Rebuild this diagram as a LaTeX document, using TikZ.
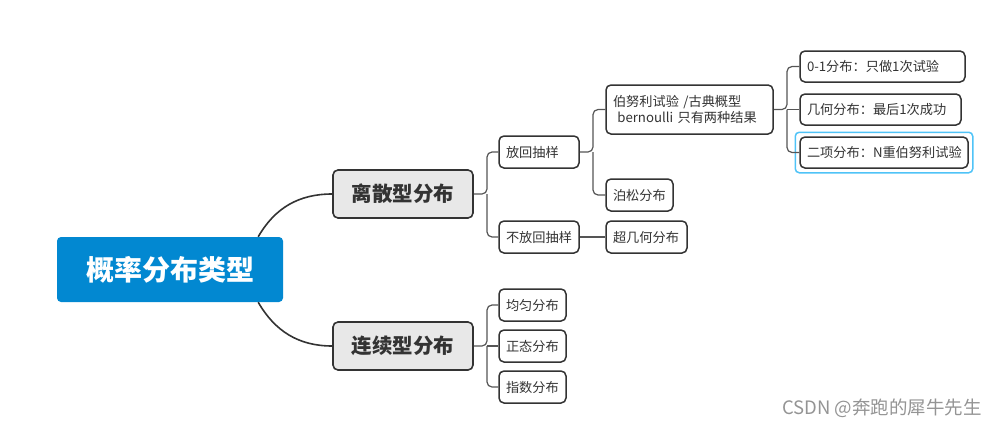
\documentclass[tikz,border=0pt]{standalone}
\usepackage{fontspec}
\setmainfont{Noto Sans CJK SC}
\usetikzlibrary{calc}
\definecolor{rootblue}{HTML}{0288D1}
\definecolor{boxline}{HTML}{333333}
\definecolor{mainfill}{HTML}{E8E8E8}
\definecolor{linkgray}{HTML}{555555}
\definecolor{hilite}{HTML}{4FC3F7}
\definecolor{txt}{HTML}{333333}
\begin{document}
\begin{tikzpicture}[x=1pt,y=-1pt,
  rootbox/.style={fill=rootblue,rounded corners=4pt,text=white,font=\fontsize{28}{32}\selectfont\bfseries,minimum width=226pt,minimum height=65pt,inner sep=0pt},
  mainbox/.style={draw=boxline,line width=1.6pt,fill=mainfill,rounded corners=5pt,text=txt,font=\fontsize{20.5}{24}\selectfont\bfseries,minimum width=140pt,minimum height=48pt,inner sep=0pt},
  leaf/.style={draw=boxline,line width=1.5pt,fill=white,rounded corners=5pt,text=txt,font=\fontsize{13.2}{16}\selectfont,minimum height=32pt,inner xsep=7pt,inner ysep=0pt,align=left},
  link/.style={draw=linkgray,line width=1.2pt,rounded corners=5pt},
  curvelink/.style={draw=boxline,line width=1.6pt}
]
\useasboundingbox (0,0) rectangle (997,426);

\node[rootbox] (root) at (170,269.5) {概率分布类型};
\node[mainbox] (disc) at (403,194) {离散型分布};
\node[mainbox] (cont) at (403,346) {连续型分布};

\node[leaf,text width=66pt] (fh) at (539,152) {放回抽样};
\node[leaf,text width=66pt] (bfh) at (539,237) {不放回抽样};
\node[leaf,text width=153pt,minimum height=49pt] (bern) at (689.5,109.5) {伯努利试验 /古典概型\\ \ bernoulli 只有两种结果};
\node[leaf,text width=53pt] (pois) at (639.5,195) {泊松分布};
\node[leaf,text width=67pt] (hyper) at (646.5,237) {超几何分布};
\node[leaf,text width=151pt,minimum height=31pt] (zo) at (882.5,66.5) {0-1分布：只做1次试验};
\node[leaf,text width=147pt,minimum height=31pt] (geo) at (880.5,109.5) {几何分布：最后1次成功};
\node[leaf,text width=154pt,minimum height=31pt] (bino) at (884,152.5) {二项分布：N重伯努利试验};
\draw[hilite,line width=1.5pt,rounded corners=4pt] ($(bino.south west)+(-4,4)$) rectangle ($(bino.north east)+(4,-4)$);
\node[leaf,text width=53pt] (unif) at (532.5,305) {均匀分布};
\node[leaf,text width=53pt] (norm) at (532.5,346) {正态分布};
\node[leaf,text width=53pt] (expo) at (532.5,387) {指数分布};

\node[text=black!42,font=\fontsize{18.5}{22}\selectfont,anchor=east,inner sep=0pt] (wm) at (982,408) {CSDN @奔跑的犀牛先生};

% curves from root
\coordinate (rt) at ($(root.north east)+(-25,0)$);
\coordinate (rb) at ($(root.south east)+(-25,0)$);
\draw[curvelink] (rt) to[out=60,in=180] (disc.west);
\draw[curvelink] (rb) to[out=-60,in=180] (cont.west);

% brackets
\coordinate (bx1) at (487,0);
\draw[link] (disc.east) -- (disc.east -| bx1) |- (fh.west);
\draw[link] (disc.east -| bx1) |- (bfh.west);
\draw[link] (cont.east) -- (cont.east -| bx1) |- (unif.west);
\draw[link] (cont.east -| bx1) |- (expo.west);
\draw[link] (cont.east -| bx1) -- (norm.west);

\coordinate (bx2) at (593,0);
\draw[link] (fh.east) -- (fh.east -| bx2) |- (bern.west);
\draw[link] (fh.east -| bx2) |- (pois.west);
\draw[link] (bfh.east) -- (hyper.west);

\coordinate (bx3) at (787,0);
\draw[link] (bern.east) -- (bern.east -| bx3) |- (zo.west);
\draw[link] (bern.east -| bx3) |- (bino.west);
\draw[link] (bern.east -| bx3) -- (geo.west);
\end{tikzpicture}
\end{document}
